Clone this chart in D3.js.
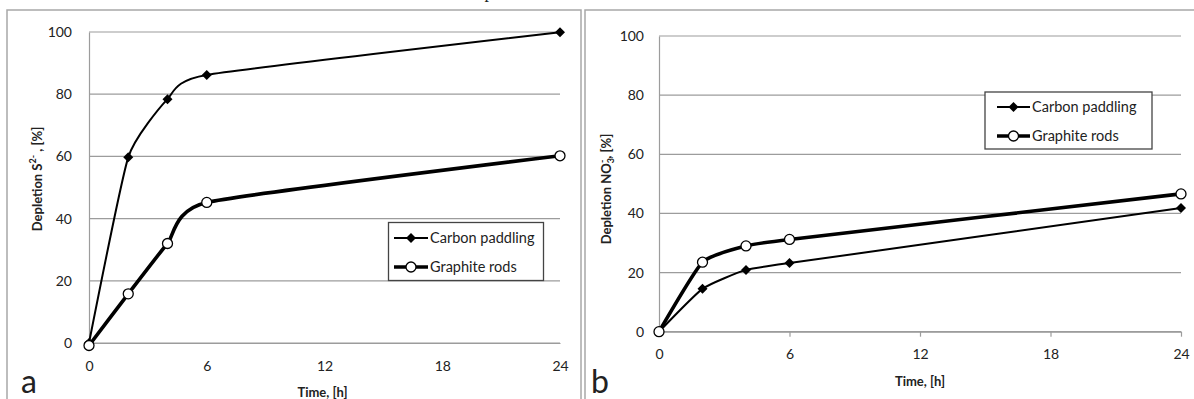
<!DOCTYPE html>
<html>
<head>
<meta charset="utf-8">
<script src="https://cdn.jsdelivr.net/npm/d3@7"></script>
<style>
  html, body { margin: 0; padding: 0; background: #fff; }
  svg { display: block; }
  text { font-family: Lato, "Open Sans", sans-serif; fill: #222; }
</style>
</head>
<body>
<svg id="chart" width="1194" height="399"></svg>
<script>
// ---- data ----
const hours = [0, 2, 4, 6, 24];
const seriesNames = ["Carbon paddling", "Graphite rods"];
const sulfideCarbon = [0, 59.7, 78.4, 86.2, 99.9];
const sulfideGraphite = [-0.8, 15.8, 32.0, 45.2, 60.2];
const nitrateCarbon = [0, 14.5, 20.9, 23.2, 41.8];
const nitrateGraphite = [0, 23.5, 29.0, 31.2, 46.6];
const xTicks = [0, 6, 12, 18, 24];
const yTicks = [0, 20, 40, 60, 80, 100];

const svg = d3.select("#chart");

// outer frames
svg.append("rect").attr("x", 7).attr("y", 10).attr("width", 574).attr("height", 400)
  .attr("fill", "none").attr("stroke", "#a8a8a8").attr("stroke-width", 1.5);
svg.append("rect").attr("x", 585).attr("y", 10).attr("width", 620).attr("height", 400)
  .attr("fill", "none").attr("stroke", "#a8a8a8").attr("stroke-width", 1.5);

// fragment of caption above
svg.append("text").attr("x", 489).attr("y", -2).attr("text-anchor", "middle")
  .style("font-family", "'Liberation Serif', serif").style("font-size", "18px").text("p");

function panel(cfg) {
  const x = d3.scaleLinear().domain([0, 24]).range([cfg.x0, cfg.x1]);
  const y = d3.scaleLinear().domain([0, 100]).range([cfg.y0, cfg.y1]);
  const g = svg.append("g");

  // gridlines
  g.append("g").selectAll("line").data(yTicks).join("line")
    .attr("x1", cfg.x0).attr("x2", cfg.x1)
    .attr("y1", d => y(d)).attr("y2", d => y(d))
    .attr("stroke", "#9c9c9c").attr("stroke-width", 1.2);

  // y axis
  const ya = g.append("g").attr("transform", `translate(${cfg.x0},0)`)
    .call(d3.axisLeft(y).tickValues(yTicks).tickSize(0).tickPadding(cfg.yPad));
  ya.select(".domain").attr("stroke", "#9c9c9c").attr("stroke-width", 1.2);
  ya.selectAll("text").style("font-family", "Lato, sans-serif").style("font-size", "14px").attr("fill", "#222");

  // x axis
  const xa = g.append("g").attr("transform", `translate(0,${cfg.y0})`)
    .call(d3.axisBottom(x).tickValues(xTicks).tickSize(cfg.xTick).tickSizeOuter(0).tickPadding(cfg.xPad));
  xa.select(".domain").attr("stroke", "#9c9c9c").attr("stroke-width", 1.2);
  xa.selectAll(".tick line").attr("stroke", "#9c9c9c").attr("stroke-width", 1.2);
  xa.selectAll("text").style("font-family", "Lato, sans-serif").style("font-size", "14px").attr("fill", "#222");

  const line = d3.line().x((d, i) => x(hours[i])).y(d => y(d)).curve(d3.curveCardinal.tension(0.5));

  // carbon (thin, diamonds)
  g.append("path").attr("d", line(cfg.carbon)).attr("fill", "none")
    .attr("stroke", "#000").attr("stroke-width", 2);
  // graphite (thick, circles)
  g.append("path").attr("d", line(cfg.graphite)).attr("fill", "none")
    .attr("stroke", "#000").attr("stroke-width", 3.6);

  const diamond = d3.symbol().type(d3.symbolDiamond2).size(64);
  g.append("g").selectAll("path").data(cfg.carbon).join("path")
    .attr("d", diamond).attr("transform", (d, i) => `translate(${x(hours[i])},${y(d)})`)
    .attr("fill", "#000");
  g.append("g").selectAll("circle").data(cfg.graphite).join("circle")
    .attr("cx", (d, i) => x(hours[i])).attr("cy", d => y(d)).attr("r", 5)
    .attr("fill", "#fff").attr("stroke", "#000").attr("stroke-width", 1.3);

  // axis titles
  g.append("text").attr("x", (cfg.x0 + cfg.x1) / 2 + cfg.xtOff).attr("y", cfg.xtY)
    .attr("text-anchor", "middle").style("font-weight", "bold").style("font-size", "13px")
    .text("Time, [h]");
  const yt = g.append("text").attr("transform", `translate(${cfg.ytX},${cfg.ytY}) rotate(-90)`)
    .attr("text-anchor", "middle").style("font-weight", "bold").style("font-size", "13px");
  cfg.ytitle(yt);

  // panel letter
  g.append("text").attr("x", cfg.lx).attr("y", cfg.ly).style("font-size", "32px").text(cfg.letter);

  // legend
  const L = cfg.legend;
  g.append("rect").attr("x", L.x).attr("y", L.y).attr("width", L.w).attr("height", L.h)
    .attr("fill", "#fff").attr("stroke", "#444").attr("stroke-width", 1.3);
  const rows = [
    { name: seriesNames[0], sw: 2, mark: "d", yy: L.r1 },
    { name: seriesNames[1], sw: 3.6, mark: "c", yy: L.r2 }
  ];
  rows.forEach(r => {
    g.append("line").attr("x1", L.lx0).attr("x2", L.lx1).attr("y1", r.yy).attr("y2", r.yy)
      .attr("stroke", "#000").attr("stroke-width", r.sw);
    const mx = (L.lx0 + L.lx1) / 2;
    if (r.mark === "d") {
      g.append("path").attr("d", diamond).attr("transform", `translate(${mx},${r.yy})`).attr("fill", "#000");
    } else {
      g.append("circle").attr("cx", mx).attr("cy", r.yy).attr("r", 5)
        .attr("fill", "#fff").attr("stroke", "#000").attr("stroke-width", 1.3);
    }
    g.append("text").attr("x", L.tx).attr("y", r.yy).attr("dy", "0.35em")
      .style("font-size", "14.5px").text(r.name);
  });
}

panel({
  x0: 89, x1: 560, y0: 343, y1: 32,
  yPad: 17, xTick: 0, xPad: 18,
  carbon: sulfideCarbon, graphite: sulfideGraphite,
  xtOff: -2, xtY: 397, ytX: 42, ytY: 179,
  ytitle: t => {
    t.append("tspan").text("Depletion S");
    t.append("tspan").attr("dy", "-6px").style("font-size", "9px").text("2-");
    t.append("tspan").attr("dy", "6px").text(" , [%]");
  },
  letter: "a", lx: 21, ly: 393,
  legend: { x: 388.5, y: 222.5, w: 155, h: 58, r1: 238, r2: 267, lx0: 394, lx1: 428, tx: 430 }
});

panel({
  x0: 659, x1: 1181, y0: 331.7, y1: 36,
  yPad: 15, xTick: 5, xPad: 12,
  carbon: nitrateCarbon, graphite: nitrateGraphite,
  xtOff: 0, xtY: 386, ytX: 611, ytY: 189,
  ytitle: t => {
    t.append("tspan").text("Depletion NO");
    t.append("tspan").attr("dy", "3px").style("font-size", "9px").text("3");
    t.append("tspan").attr("dy", "-9px").attr("dx", "-5px").style("font-size", "9px").text("-");
    t.append("tspan").attr("dy", "6px").attr("dx", "1px").text(", [%]");
  },
  letter: "b", lx: 591, ly: 393,
  legend: { x: 985, y: 92, w: 167, h: 57, r1: 107, r2: 136, lx0: 997, lx1: 1030, tx: 1032 }
});
</script>
</body>
</html>
